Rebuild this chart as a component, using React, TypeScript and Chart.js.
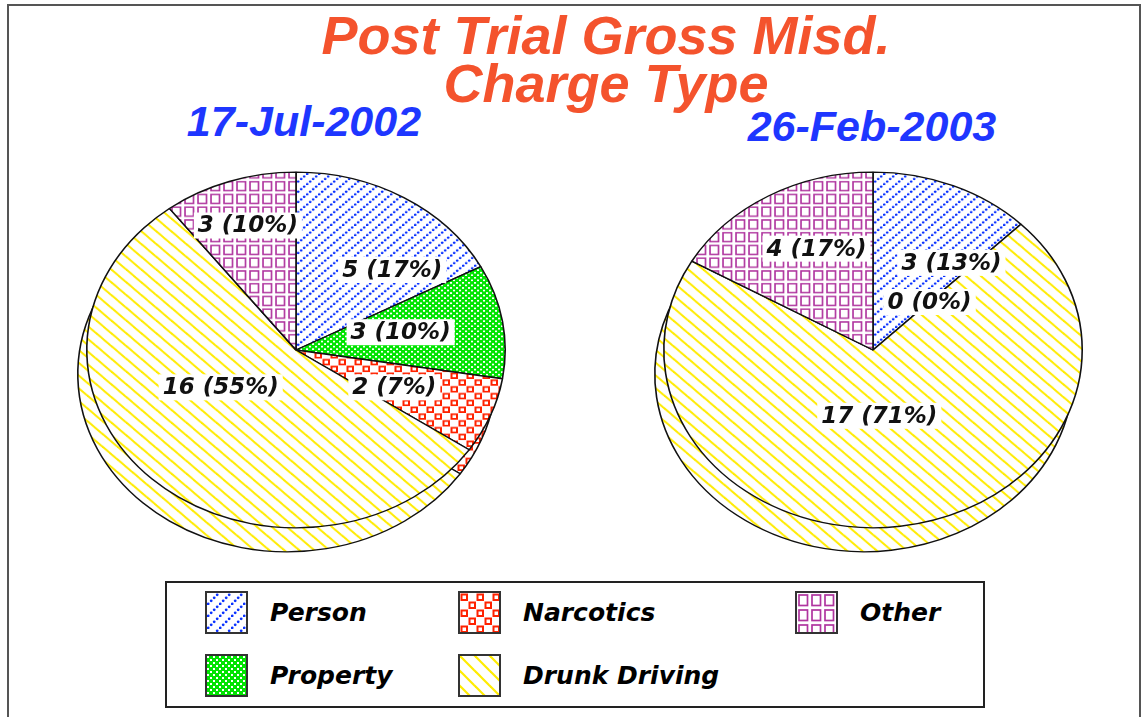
import React, { useEffect, useMemo, useRef } from 'react';
import { Chart, registerables } from 'chart.js';
Chart.register(...registerables);

// ---------- data ----------
const categories = ['Person', 'Property', 'Narcotics', 'Drunk Driving', 'Other'];
const julyValues = [5, 3, 2, 16, 3];
const februaryValues = [3, 0, 0, 17, 4];
const pieDates = ['17-Jul-2002', '26-Feb-2003'];
const titleLines = ['Post Trial Gross Misd.', 'Charge Type'];

// ---------- styles ----------
const SQUASH = 0.85;
const DEPTH_X = -9;
const DEPTH_Y = 24;
// label anchor, as fractions of the pie radius (x) and squashed radius (y), from the centre
const julyLabelAnchors = [
  [0.46, -0.45],
  [0.5, -0.1],
  [0.47, 0.21],
  [-0.36, 0.21],
  [-0.23, -0.7],
];
const februaryLabelAnchors = [
  [0.375, -0.49],
  [0.27, -0.27],
  [0.27, -0.27],
  [0.03, 0.37],
  [-0.27, -0.57],
];

function makeTile(index: number): HTMLCanvasElement {
  const c = document.createElement('canvas');
  const g = c.getContext('2d') as CanvasRenderingContext2D;
  const paint = (w: number, h: number, bg: string) => {
    c.width = w;
    c.height = h;
    g.fillStyle = bg;
    g.fillRect(0, 0, w, h);
  };
  if (index === 0) {
    // Person: blue dotted diagonal "/"
    paint(12, 12, '#ffffff');
    g.fillStyle = '#0a32ff';
    for (let i = 0; i < 4; i++) {
      g.beginPath();
      g.arc(i * 3 + 1.2, 10.8 - i * 3, 1.4, 0, Math.PI * 2);
      g.fill();
    }
  } else if (index === 1) {
    // Property: green fine checker
    paint(6, 6, '#00e400');
    g.fillStyle = '#ffffff';
    g.fillRect(0, 0, 2, 2);
    g.fillRect(3, 3, 2, 2);
  } else if (index === 2) {
    // Narcotics: red hollow squares, staggered
    paint(16, 16, '#ffffff');
    g.strokeStyle = '#ff2200';
    g.lineWidth = 2;
    g.strokeRect(1.5, 1.5, 5.5, 5.5);
    g.strokeRect(9.5, 9.5, 5.5, 5.5);
  } else if (index === 3) {
    // Drunk driving: yellow "\" lines
    paint(15, 15, '#ffffff');
    g.strokeStyle = '#ffec00';
    g.lineWidth = 2.2;
    for (const o of [-15, 0, 15]) {
      g.beginPath();
      g.moveTo(o - 1, -1);
      g.lineTo(o + 16, 16);
      g.stroke();
    }
  } else {
    // Other: purple grid of hollow squares
    paint(13, 15, '#ffffff');
    g.strokeStyle = '#b0359f';
    g.lineWidth = 1.7;
    g.strokeRect(2, 2, 8.5, 10.5);
  }
  return c;
}

function squash(ctx: CanvasRenderingContext2D, x: number, y: number, k: number) {
  ctx.translate(x, y);
  ctx.scale(1, k);
  ctx.translate(-x, -y);
}

const ellipsePie = {
  id: 'ellipsePie',
  beforeDatasetsDraw(chart: any, _args: any, opts: any) {
    const arcs = chart.getDatasetMeta(0).data;
    const ctx = chart.ctx as CanvasRenderingContext2D;
    const { x, y } = arcs[0];
    ctx.save();
    ctx.translate(opts.depthX, opts.depthY);
    squash(ctx, x, y, opts.squash);
    arcs.forEach((a: any) => a.draw(ctx));
    ctx.restore();
    ctx.save();
    squash(ctx, x, y, opts.squash);
  },
  afterDatasetsDraw(chart: any, _args: any, opts: any) {
    const ctx = chart.ctx as CanvasRenderingContext2D;
    ctx.restore();
    const arcs = chart.getDatasetMeta(0).data;
    const values: number[] = chart.data.datasets[0].data;
    const total = values.reduce((s, v) => s + v, 0);
    ctx.save();
    ctx.font = "italic bold 23px 'DejaVu Sans'";
    ctx.textAlign = 'center';
    ctx.textBaseline = 'middle';
    arcs.forEach((a: any, i: number) => {
      const v = values[i];
      const text = `${v} (${Math.round((v / total) * 100)}%)`;
      const [fx, fy] = opts.anchors[i];
      const px = a.x + fx * a.outerRadius;
      const py = a.y + fy * a.outerRadius * opts.squash;
      const w = ctx.measureText(text).width;
      ctx.fillStyle = '#ffffff';
      ctx.fillRect(px - w / 2 - 4, py - 13, w + 8, 26);
      ctx.fillStyle = '#111111';
      ctx.fillText(text, px, py + 1);
    });
    ctx.restore();
  },
};

function makePie(canvas: HTMLCanvasElement, values: number[], anchors: number[][], tiles: HTMLCanvasElement[]) {
  const ctx = canvas.getContext('2d') as CanvasRenderingContext2D;
  const patterns = tiles.map((t) => ctx.createPattern(t, 'repeat'));
  return new Chart(canvas, {
    type: 'pie',
    data: {
      labels: categories,
      datasets: [
        {
          data: values,
          backgroundColor: patterns as any,
          borderColor: '#111111',
          borderWidth: 1.6,
          hoverOffset: 0,
        },
      ],
    },
    options: {
      animation: false,
      responsive: false,
      events: [],
      layout: { padding: 20 },
      plugins: {
        legend: { display: false },
        tooltip: { enabled: false },
        ellipsePie: { squash: SQUASH, depthX: DEPTH_X, depthY: DEPTH_Y, anchors },
      } as any,
    },
    plugins: [ellipsePie as any],
  });
}

const PIE_BOX = 460;

export default function App() {
  const leftRef = useRef<HTMLCanvasElement>(null);
  const rightRef = useRef<HTMLCanvasElement>(null);
  const tiles = useMemo(() => categories.map((_, i) => makeTile(i)), []);
  const tileUrls = useMemo(() => tiles.map((t) => t.toDataURL()), [tiles]);

  useEffect(() => {
    const c1 = makePie(leftRef.current as HTMLCanvasElement, julyValues, julyLabelAnchors, tiles);
    const c2 = makePie(rightRef.current as HTMLCanvasElement, februaryValues, februaryLabelAnchors, tiles);
    return () => {
      c1.destroy();
      c2.destroy();
    };
  }, [tiles]);

  const titleFont: React.CSSProperties = {
    position: 'absolute',
    fontFamily: "'Liberation Sans', Arial, sans-serif",
    fontWeight: 'bold',
    fontStyle: 'italic',
    lineHeight: 1,
    whiteSpace: 'nowrap',
    textAlign: 'center',
  };
  const legendCols = [205, 458, 795];
  const legendRows = [591, 654];

  return (
    <div style={{ position: 'absolute', left: 0, top: 0, width: 1147, height: 717, background: '#fff', overflow: 'hidden' }}>
      <div
        style={{
          position: 'absolute',
          left: 7,
          top: 4,
          width: 1134,
          height: 760,
          border: '2px solid #555',
          boxSizing: 'border-box',
        }}
      />
      <div style={{ ...titleFont, left: 206, width: 800, top: 8, fontSize: 54, color: '#f4532d' }}>{titleLines[0]}</div>
      <div style={{ ...titleFont, left: 206, width: 800, top: 56, fontSize: 54, color: '#f4532d' }}>{titleLines[1]}</div>
      <div style={{ ...titleFont, left: 104, width: 400, top: 100, fontSize: 43, color: '#1e36ff' }}>{pieDates[0]}</div>
      <div style={{ ...titleFont, left: 672, width: 400, top: 105, fontSize: 43, color: '#1e36ff' }}>{pieDates[1]}</div>

      <canvas
        ref={leftRef}
        width={PIE_BOX}
        height={PIE_BOX}
        style={{ position: 'absolute', left: 296 - PIE_BOX / 2, top: 350 - PIE_BOX / 2, width: PIE_BOX, height: PIE_BOX }}
      />
      <canvas
        ref={rightRef}
        width={PIE_BOX}
        height={PIE_BOX}
        style={{ position: 'absolute', left: 873 - PIE_BOX / 2, top: 350 - PIE_BOX / 2, width: PIE_BOX, height: PIE_BOX }}
      />

      <div
        style={{
          position: 'absolute',
          left: 165,
          top: 581,
          width: 820,
          height: 127,
          border: '2px solid #222',
          boxSizing: 'border-box',
        }}
      />
      {categories.map((name, i) => {
        const col = Math.floor(i / 2);
        const row = i % 2;
        return (
          <div
            key={name}
            style={{
              position: 'absolute',
              left: legendCols[col],
              top: legendRows[row],
              height: 43,
              display: 'flex',
              alignItems: 'center',
              whiteSpace: 'nowrap',
            }}
          >
            <div
              style={{
                width: 43,
                height: 43,
                boxSizing: 'border-box',
                border: '2px solid #333',
                backgroundImage: `url(${tileUrls[i]})`,
                backgroundRepeat: 'repeat',
              }}
            />
            <span
              style={{
                marginLeft: 22,
                fontFamily: "'DejaVu Sans', sans-serif",
                fontWeight: 'bold',
                fontStyle: 'italic',
                fontSize: 25,
                color: '#000',
              }}
            >
              {name}
            </span>
          </div>
        );
      })}
    </div>
  );
}
